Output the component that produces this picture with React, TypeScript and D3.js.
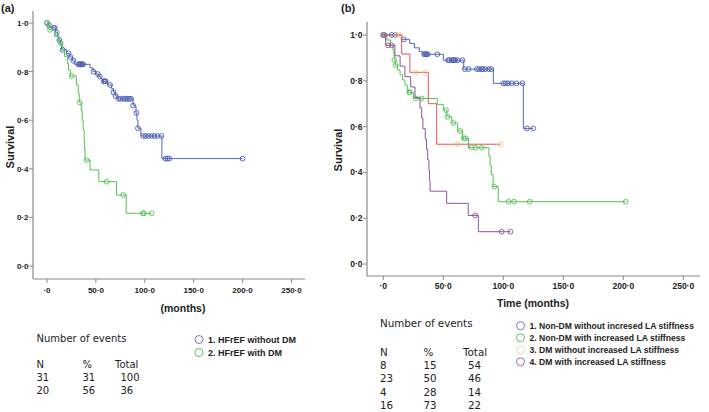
import React from 'react';
import * as d3 from 'd3';

type Pt = [number, number];

// ---------- DATA ----------
const xTicks = [0, 50, 100, 150, 200, 250];
const yTicks = [0, 0.2, 0.4, 0.6, 0.8, 1.0];

// Panel (a)
const aBlueEvents: Pt[] = [
  [1, 0.99], [3, 0.98], [9, 0.96], [11, 0.945], [12, 0.93], [14, 0.91], [15, 0.89],
  [20, 0.875], [23, 0.86], [26, 0.845], [28, 0.83], [44, 0.815], [47, 0.80], [50, 0.79],
  [53, 0.78], [55, 0.77], [57, 0.76], [62, 0.745], [66, 0.73], [68, 0.715], [70, 0.70],
  [72, 0.688], [88, 0.66], [91, 0.63], [92, 0.60], [93, 0.567], [96, 0.535], [117.5, 0.442],
];
const aBlueCensor: number[] = [
  0, 2, 7, 8, 10, 12.6, 16, 22, 24, 27, 32, 33, 34, 35, 36, 37, 47.5, 52, 54, 58, 59, 60,
  64.5, 68, 70, 73, 75, 78, 80, 82, 84, 86, 88, 91.5, 93, 98.4, 101, 104, 107, 110, 113,
  117, 121, 123, 125, 200,
];
const aGreenEvents: Pt[] = [
  [2, 0.972], [8, 0.944], [12, 0.917], [16, 0.889], [18, 0.861], [21, 0.833], [22, 0.806],
  [24, 0.782], [30, 0.745], [32, 0.71], [33, 0.673], [35, 0.64], [36, 0.60], [37, 0.56],
  [38, 0.52], [38.5, 0.48], [39, 0.436], [44, 0.395], [53, 0.347], [71, 0.292], [81, 0.217],
];
const aGreenCensor: number[] = [0, 3, 14, 25.3, 33.5, 40.5, 61, 78, 98, 99, 107];

// Panel (b)
const bS1Events: Pt[] = [
  [15, 0.981], [22, 0.963], [26, 0.944], [30, 0.927], [33, 0.916], [50, 0.89],
  [67, 0.851], [91.7, 0.789], [116.7, 0.592],
];
const bS1Censor: number[] = [
  0, 1, 7, 10, 17, 34, 35, 36, 37, 45, 54, 55, 57, 58, 59, 60, 62, 66, 68, 71, 78, 80, 82,
  83, 85, 88, 90, 100, 102, 104, 107, 111, 116, 119.7, 125,
];
const bS2Events: Pt[] = [
  [3, 0.978], [6, 0.956], [8, 0.935], [8.8, 0.913], [9.2, 0.891], [10, 0.869], [12, 0.847],
  [14, 0.826], [16, 0.804], [18, 0.782], [20, 0.76], [21, 0.75], [25, 0.723], [45, 0.697],
  [50, 0.672], [53, 0.643], [57, 0.616], [62, 0.581], [66, 0.549], [71, 0.508], [88, 0.47],
  [89, 0.43], [90, 0.39], [91.5, 0.338], [95.8, 0.272],
];
const bS2Censor: number[] = [9.2, 10.4, 21.5, 22, 27, 32, 52.3, 53.5, 58.3, 64, 67, 68.5, 73.6, 77, 82, 92.5, 104.4, 109, 122, 202];
const bS3Events: Pt[] = [[15.3, 0.917], [22.2, 0.837], [37.5, 0.70], [44.5, 0.523]];
const bS3Censor: number[] = [0, 11, 14, 27, 35, 61.6, 97.6];
const bS4Events: Pt[] = [
  [2, 0.955], [9.7, 0.909], [14, 0.864], [18, 0.818], [22.8, 0.773], [26.4, 0.727],
  [30.6, 0.682], [32, 0.636], [33, 0.591], [35, 0.545], [36, 0.5], [37, 0.455], [38, 0.409],
  [38.5, 0.364], [39, 0.318], [52.8, 0.265], [70.8, 0.212], [79.2, 0.141],
];
const bS4Censor: number[] = [0, 4, 7, 76.5, 98.6, 106];

const aLegend = ['1. HFrEF without DM', '2. HFrEF with DM'];
const aN = ['31', '20'];
const aPct = ['31', '56'];
const aTotal = ['100', '36'];

const bLegend = [
  '1. Non-DM without incresed LA stiffness',
  '2. Non-DM with increased LA stiffness',
  '3. DM without increased LA stiffness',
  '4. DM with increased LA stiffness',
];
const bN = ['8', '23', '4', '16'];
const bPct = ['15', '50', '28', '73'];
const bTotal = ['54', '46', '14', '22'];

// ---------- STYLE ----------
const BLUE = '#5566bd';
const BLUE_C = '#4a5cb6';
const GREEN = '#56c256';
const RED = '#e2574f';
const TAN = '#e6c795';
const PURPLE = '#8b5699';
const AXIS = '#8a8a8a';
const TXT = '#222';
const SANS = 'Liberation Sans, Arial, sans-serif';
const TABLE_FONT = 'DejaVu Sans, sans-serif';

const fmtX = (v: number) => (v === 0 ? '·0' : `${v}·0`);
const fmtY = (v: number) => v.toFixed(1).replace('.', '·');

interface Series { events: Pt[]; censor: number[]; line: string; circ: string; }

function survAt(events: Pt[], t: number) {
  let s = 1;
  for (const [et, es] of events) if (et <= t) s = es;
  return s;
}

function Panel(props: {
  series: Series[];
  x0: number; x1: number; y0: number; y1: number;
  axX: number; axTop: number; axY: number; axRight: number;
  tickFont: number; labelY: number; xTitle: string; xTitleX: number; xTitleY: number;
  survX: number; survY: number;
}) {
  const x = d3.scaleLinear().domain([0, 250]).range([props.x0, props.x1]);
  const y = d3.scaleLinear().domain([0, 1]).range([props.y0, props.y1]);
  const line = d3.line<Pt>().x(d => x(d[0])).y(d => y(d[1])).curve(d3.curveStepAfter);
  return (
    <g>
      <line x1={props.axX} x2={props.axX} y1={props.axTop} y2={props.axY} stroke={AXIS} strokeWidth={1.2} />
      <line x1={props.axX} x2={props.axRight} y1={props.axY} y2={props.axY} stroke={AXIS} strokeWidth={1.2} />
      {yTicks.map(v => (
        <g key={'y' + v}>
          <line x1={props.axX - 4} x2={props.axX} y1={y(v)} y2={y(v)} stroke={AXIS} />
          <text x={props.axX - 4.5} y={y(v) + 3} textAnchor="end" fontSize={props.tickFont} fontWeight="bold" fontFamily={SANS} fill={TXT}>{fmtY(v)}</text>
        </g>
      ))}
      {xTicks.map(v => (
        <g key={'x' + v}>
          <line x1={x(v)} x2={x(v)} y1={props.axY} y2={props.axY + 4} stroke={AXIS} />
          <text x={x(v)} y={props.labelY} textAnchor="middle" fontSize={props.tickFont} fontWeight="bold" fontFamily={SANS} fill={TXT}>{fmtX(v)}</text>
        </g>
      ))}
      <text x={props.xTitleX} y={props.xTitleY} textAnchor="middle" fontSize={10.5} fontWeight="bold" fontFamily={SANS} fill={TXT}>{props.xTitle}</text>
      <text transform={`translate(${props.survX},${props.survY}) rotate(-90)`} textAnchor="middle" fontSize={11} fontWeight="bold" fontFamily={SANS} fill={TXT}>Survival</text>
      {props.series.map((s, i) => {
        const lastT = Math.max(s.events[s.events.length - 1][0], ...s.censor);
        const pts: Pt[] = [[0, 1], ...s.events, [lastT, s.events[s.events.length - 1][1]]];
        return (
          <g key={i}>
            <path d={line(pts) || ''} fill="none" stroke={s.line} strokeWidth={1} />
            {s.censor.map((c, j) => (
              <circle key={j} cx={x(c)} cy={y(survAt(s.events, c))} r={2.4} fill="none" stroke={s.circ} strokeWidth={0.9} />
            ))}
          </g>
        );
      })}
    </g>
  );
}

function Table(props: { x: number; titleY: number; headY: number; rowH: number; cols: number[]; valX: number; N: string[]; P: string[]; T: string[]; size: number }) {
  const f = { fontSize: props.size, fontFamily: TABLE_FONT, fill: TXT } as any;
  return (
    <g>
      <text x={props.x} y={props.titleY} {...f}>Number of events</text>
      <text x={props.cols[0]} y={props.headY} {...f}>N</text>
      <text x={props.cols[1]} y={props.headY} {...f}>%</text>
      <text x={props.cols[2]} y={props.headY} {...f}>Total</text>
      {props.N.map((n, i) => (
        <g key={i}>
          <text x={props.cols[0]} y={props.headY + props.rowH * (i + 1)} {...f}>{n}</text>
          <text x={props.cols[1]} y={props.headY + props.rowH * (i + 1)} {...f}>{props.P[i]}</text>
          <text x={props.valX} y={props.headY + props.rowH * (i + 1)} {...f}>{props.T[i]}</text>
        </g>
      ))}
    </g>
  );
}

function Legend(props: { x: number; y: number; dy: number; labels: string[]; colors: string[]; size: number }) {
  return (
    <g>
      {props.labels.map((l, i) => (
        <g key={i}>
          <circle cx={props.x} cy={props.y + i * props.dy} r={4} fill="none" stroke={props.colors[i]} strokeWidth={1} />
          <text x={props.x + 9} y={props.y + i * props.dy + 3.3} fontSize={props.size} fontWeight="bold" fontFamily={SANS} fill={TXT}>{l}</text>
        </g>
      ))}
    </g>
  );
}

export default function App() {
  const aSeries: Series[] = [
    { events: aBlueEvents, censor: aBlueCensor, line: BLUE, circ: BLUE_C },
    { events: aGreenEvents, censor: aGreenCensor, line: GREEN, circ: GREEN },
  ];
  const bSeries: Series[] = [
    { events: bS1Events, censor: bS1Censor, line: BLUE, circ: BLUE_C },
    { events: bS2Events, censor: bS2Censor, line: GREEN, circ: GREEN },
    { events: bS3Events, censor: bS3Censor, line: RED, circ: TAN },
    { events: bS4Events, censor: bS4Censor, line: PURPLE, circ: PURPLE },
  ];
  return (
    <svg width={709} height={412} style={{ position: 'absolute', left: 0, top: 0, background: '#fff' }}>
      <rect width={709} height={412} fill="#fff" />
      <text x={1} y={12} fontSize={11} fontWeight="bold" fontFamily={SANS} fill={TXT}>(a)</text>
      <text x={341} y={12} fontSize={11} fontWeight="bold" fontFamily={SANS} fill={TXT}>(b)</text>
      <Panel series={aSeries} x0={47} x1={291.5} y0={266} y1={23}
        axX={33} axTop={11} axY={279} axRight={305} tickFont={8} labelY={293}
        xTitle="(months)" xTitleX={183} xTitleY={312} survX={14} survY={147} />
      <Panel series={bSeries} x0={383.3} x1={683.3} y0={264} y1={35}
        axX={367} axTop={22} axY={276} axRight={700} tickFont={8.5} labelY={288.5}
        xTitle="Time (months)" xTitleX={533} xTitleY={307} survX={342} survY={150} />
      <Table x={36.5} titleY={342} headY={368} rowH={13} cols={[36.5, 82.5, 115]} valX={120.5} N={aN} P={aPct} T={aTotal} size={10} />
      <Table x={380} titleY={327} headY={356} rowH={13.2} cols={[380, 423.5, 463]} valX={468} N={bN} P={bPct} T={bTotal} size={10.3} />
      <Legend x={199} y={339.5} dy={13} labels={aLegend} colors={['#6a7ac4', '#5cc35c']} size={9} />
      <Legend x={520.5} y={325.7} dy={12} labels={bLegend} colors={['#6a7ac4', '#5cc35c', '#eed7b0', '#9a6aae']} size={8.6} />
    </svg>
  );
}
